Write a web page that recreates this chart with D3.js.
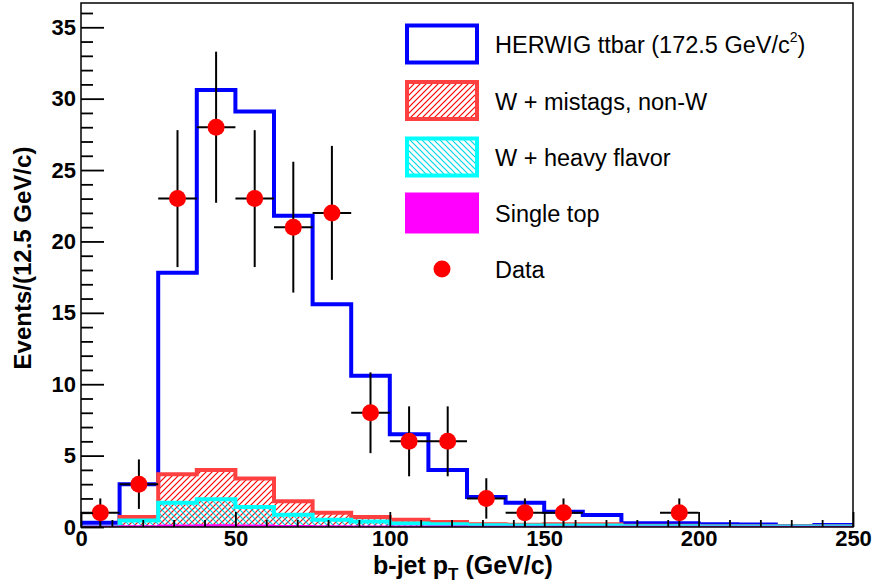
<!DOCTYPE html>
<html>
<head>
<meta charset="utf-8">
<script src="https://cdn.jsdelivr.net/npm/d3@7/dist/d3.min.js"></script>
<style>
  html, body { margin: 0; padding: 0; background: #fff; }
  svg { display: block; }
  text { font-family: "Liberation Sans", Arial, Helvetica, sans-serif; }
</style>
</head>
<body>
<svg id="chart" width="879" height="586"></svg>
<script>
// ---- data ----
const binLow = [0, 12.5, 25, 37.5, 50, 62.5, 75, 87.5, 100, 112.5, 125, 137.5, 150, 162.5, 175, 187.5, 200, 212.5, 225, 237.5];
const binWidth = 12.5;
const ttbarTotal   = [0.3, 3.0, 17.8, 30.6, 29.1, 21.8, 15.6, 10.6, 6.5, 4.0, 2.1, 1.7, 1.07, 0.84, 0.26, 0.26, 0.2, 0.17, 0.07, 0.14];
const mistagsTotal = [0, 0.7, 3.7, 4.0, 3.4, 1.8, 1.0, 0.7, 0.5, 0.35, 0.2, 0.15, 0.2, 0.2, 0.08, 0.08, 0.06, 0.06, 0.05, 0.05];
const heavyFlavorTotal = [0, 0.45, 1.7, 1.95, 1.4, 0.85, 0.5, 0.38, 0.25, 0.2, 0.12, 0.1, 0.1, 0.1, 0.05, 0.05, 0.04, 0.04, 0.03, 0.03];
const singleTopTotal = [0.03, 0.05, 0.1, 0.12, 0.1, 0.07, 0.05, 0.04, 0.03, 0.03, 0.02, 0.02, 0.02, 0.02, 0.01, 0.01, 0.01, 0.01, 0.01, 0.01];
const dataCounts = [1, 3, 23, 28, 23, 21, 22, 8, 6, 6, 2, 1, 1, 0, 0, 1, 0, 0, 0, 0];

const xMajorTicks = [0, 50, 100, 150, 200, 250];
const xMinorTicks = [10, 20, 30, 40, 60, 70, 80, 90, 110, 120, 130, 140, 160, 170, 180, 190, 210, 220, 230, 240];
const yMajorTicks = [0, 5, 10, 15, 20, 25, 30, 35];
const yMinorTicks = [1, 2, 3, 4, 6, 7, 8, 9, 11, 12, 13, 14, 16, 17, 18, 19, 21, 22, 23, 24, 26, 27, 28, 29, 31, 32, 33, 34, 36];

const legendLabels = ["HERWIG ttbar (172.5 GeV/c", "W + mistags, non-W", "W + heavy flavor", "Single top", "Data"];

// ---- layout ----
const svg = d3.select("#chart");
const X0 = 81, X1 = 853, Y0 = 527, Y1 = 3;
const x = d3.scaleLinear().domain([0, 250]).range([X0, X1]);
const y = d3.scaleLinear().domain([0, 36.7]).range([Y0, Y1]);

const defs = svg.append("defs");
function hatch(id, color, dir) {
  const p = defs.append("pattern").attr("id", id)
    .attr("patternUnits", "userSpaceOnUse").attr("width", 6).attr("height", 6);
  const d = dir === "fwd"
    ? "M0,6 L6,0 M-1,1 L1,-1 M5,7 L7,5"
    : "M0,0 L6,6 M-1,5 L1,7 M5,-1 L7,1";
  p.append("path").attr("d", d).attr("stroke", color).attr("stroke-width", 1.2).attr("fill", "none");
}
hatch("hRed", "#ff0000", "fwd");
hatch("hCyan", "#00d8e8", "back");

const clip = defs.append("clipPath").attr("id", "plotClip");
clip.append("rect").attr("x", X0).attr("y", Y1).attr("width", X1 - X0).attr("height", Y0 - Y1);

function stepPath(vals) {
  let pts = [[x(binLow[0]), y(0)]];
  vals.forEach((v, i) => {
    pts.push([x(binLow[i]), y(v)]);
    pts.push([x(binLow[i] + binWidth), y(v)]);
  });
  pts.push([x(binLow[vals.length - 1] + binWidth), y(0)]);
  return d3.line()(pts);
}

const plot = svg.append("g").attr("clip-path", "url(#plotClip)");

const hists = [
  { vals: ttbarTotal, stroke: "#0000ff", fill: "none", sw: 4 },
  { vals: mistagsTotal, stroke: "#ff4040", fill: "url(#hRed)", sw: 4 },
  { vals: heavyFlavorTotal, stroke: "#00ffff", fill: "url(#hCyan)", sw: 4 },
  { vals: singleTopTotal, stroke: "#ff00ff", fill: "#ff00ff", sw: 2 }
];
plot.selectAll("path.hist").data(hists).enter().append("path")
  .attr("class", "hist")
  .attr("d", d => stepPath(d.vals))
  .attr("fill", d => d.fill)
  .attr("stroke", d => d.stroke)
  .attr("stroke-width", d => d.sw)
  .attr("stroke-linejoin", "miter");

// data points
const pts = dataCounts.map((n, i) => ({ n, c: binLow[i] + binWidth / 2, lo: binLow[i], hi: binLow[i] + binWidth }))
  .filter(d => d.n > 0);
const dg = plot.append("g");
dg.selectAll("line.eh").data(pts).enter().append("line")
  .attr("x1", d => x(d.lo)).attr("x2", d => x(d.hi))
  .attr("y1", d => y(d.n)).attr("y2", d => y(d.n))
  .attr("stroke", "#000").attr("stroke-width", 2);
dg.selectAll("line.ev").data(pts).enter().append("line")
  .attr("x1", d => x(d.c)).attr("x2", d => x(d.c))
  .attr("y1", d => y(d.n - Math.sqrt(d.n))).attr("y2", d => y(d.n + Math.sqrt(d.n)))
  .attr("stroke", "#000").attr("stroke-width", 2);
dg.selectAll("circle").data(pts).enter().append("circle")
  .attr("cx", d => x(d.c)).attr("cy", d => y(d.n)).attr("r", 8.5)
  .attr("fill", "#ff0000");

// axes
const fontAxis = "bold 22px 'Liberation Sans', Arial, sans-serif";
const gx = svg.append("g").attr("transform", `translate(0,${Y0})`)
  .call(d3.axisBottom(x).tickValues(xMajorTicks).tickSizeInner(-15).tickSizeOuter(0).tickPadding(3).tickFormat(d3.format("d")));
const gxm = svg.append("g").attr("transform", `translate(0,${Y0})`)
  .call(d3.axisBottom(x).tickValues(xMinorTicks).tickSizeInner(-7).tickSizeOuter(0).tickFormat(""));
const gy = svg.append("g").attr("transform", `translate(${X0},0)`)
  .call(d3.axisLeft(y).tickValues(yMajorTicks).tickSizeInner(-23).tickSizeOuter(0).tickPadding(5).tickFormat(d3.format("d")));
const gym = svg.append("g").attr("transform", `translate(${X0},0)`)
  .call(d3.axisLeft(y).tickValues(yMinorTicks).tickSizeInner(-12).tickSizeOuter(0).tickFormat(""));
[gx, gxm, gy, gym].forEach(g => {
  g.select(".domain").remove();
  g.selectAll(".tick line").attr("stroke", "#000").attr("stroke-width", 1.8);
  g.selectAll("text").style("font", fontAxis).attr("fill", "#000");
});

// frame
svg.append("rect").attr("x", X0).attr("y", Y1).attr("width", X1 - X0).attr("height", Y0 - Y1)
  .attr("fill", "none").attr("stroke", "#000").attr("stroke-width", 1.5);

// axis titles
const xt = svg.append("text").attr("x", 463).attr("y", 574).attr("text-anchor", "middle")
  .style("font", "bold 25px 'Liberation Sans', Arial, sans-serif");
xt.append("tspan").text("b-jet p");
xt.append("tspan").attr("dy", 6).style("font-size", "17px").text("T");
xt.append("tspan").attr("dy", -6).text(" (GeV/c)");

svg.append("text").attr("transform", "translate(31,258) rotate(-90)").attr("text-anchor", "middle")
  .style("font", "bold 24px 'Liberation Sans', Arial, sans-serif")
  .text("Events/(12.5 GeV/c)");

// legend
const legY = [44, 100.5, 157, 213, 269];
const lg = svg.append("g");
const boxStyles = [
  { stroke: "#0000ff", fill: "#fff" },
  { stroke: "#ff4040", fill: "url(#hRed)" },
  { stroke: "#00ffff", fill: "url(#hCyan)" },
  { stroke: "#ff00ff", fill: "#ff00ff" }
];
boxStyles.forEach((s, i) => {
  lg.append("rect").attr("x", 407).attr("y", legY[i] - 18.5).attr("width", 70).attr("height", 37)
    .attr("fill", s.fill).attr("stroke", s.stroke).attr("stroke-width", 4);
});
lg.append("circle").attr("cx", 442).attr("cy", legY[4]).attr("r", 8.5).attr("fill", "#ff0000");
legendLabels.forEach((t, i) => {
  const tx = lg.append("text").attr("x", 495).attr("y", legY[i] + 9)
    .style("font", "23.5px 'Liberation Sans', Arial, sans-serif").attr("fill", "#000");
  tx.append("tspan").text(t);
  if (i === 0) {
    tx.append("tspan").attr("dy", -11).style("font-size", "14px").text("2");
    tx.append("tspan").attr("dy", 11).text(")");
  }
});
</script>
</body>
</html>
